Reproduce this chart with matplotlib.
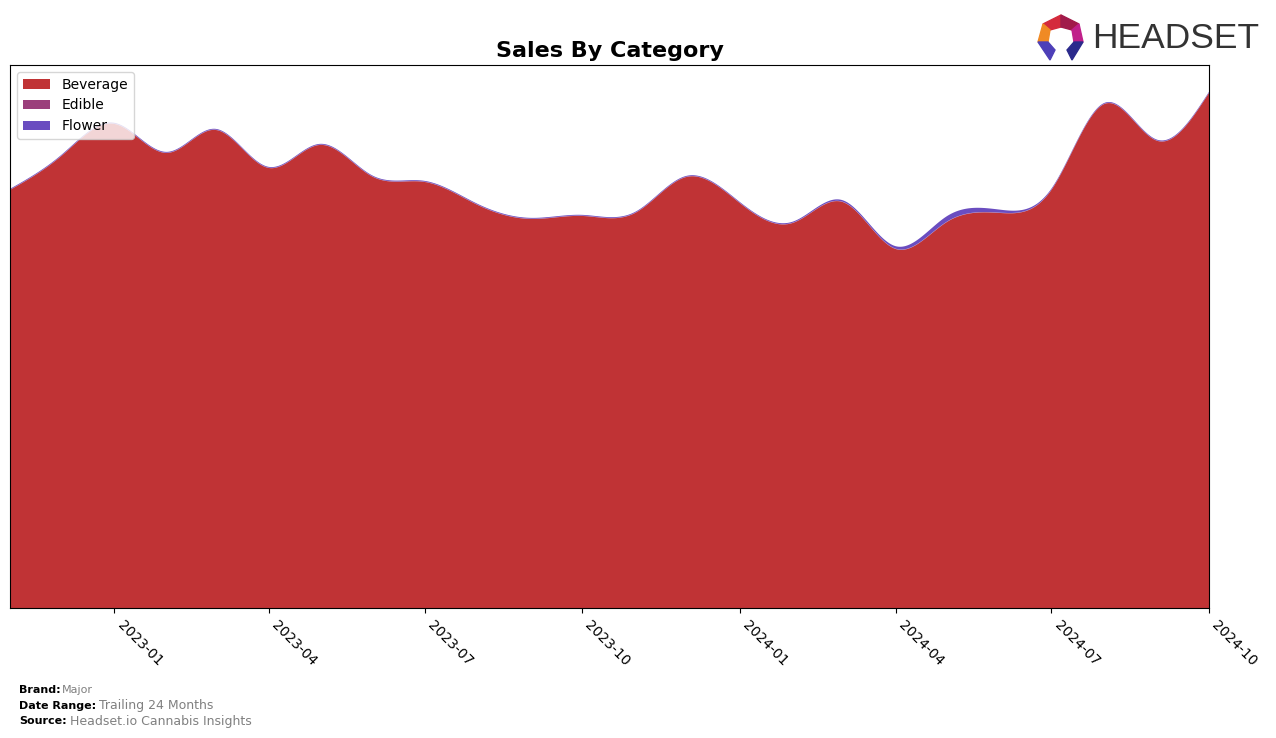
import numpy as np
import pandas as pd
import matplotlib
matplotlib.use("Agg")
import matplotlib.pyplot as plt
import matplotlib.dates as mdates
from matplotlib.patches import Polygon

# monthly data
months = pd.date_range("2022-11-01", "2024-10-01", freq="MS")
beverage = [418, 452, 484, 455, 478, 440, 463, 431, 426, 403, 389, 392,
            395, 431, 405, 385, 406, 359, 386, 395, 418, 504, 467, 515]
edible = [0.3, 0.3, 0.3, 0.3, 0.3, 0.3, 0.3, 0.3, 0.3, 0.3, 0.3, 0.3,
          0.3, 0.3, 0.3, 0.3, 0.3, 0.3, 0.3, 0.3, 0.3, 0.3, 0.3, 0.3]
flower = [0.8, 0.8, 0.8, 0.8, 0.8, 0.8, 0.8, 0.8, 0.8, 0.8, 0.8, 0.8,
          0.8, 0.8, 0.8, 1.0, 1.5, 2.5, 5.5, 3.0, 1.0, 0.8, 0.8, 0.8]
categories = ["Beverage", "Edible", "Flower"]
colors = ["#c03335", "#9b3f7b", "#6a4dc0"]
tick_dates = pd.date_range("2023-01-01", "2024-10-01", freq="3MS")


def spline(x, y, xs):
    # natural cubic spline, only for drawing the smooth curve
    x = np.asarray(x, float)
    y = np.asarray(y, float)
    n = len(x)
    h = np.diff(x)
    A = np.zeros((n, n))
    b = np.zeros(n)
    A[0, 0] = 1
    A[-1, -1] = 1
    for i in range(1, n - 1):
        A[i, i - 1] = h[i - 1]
        A[i, i] = 2 * (h[i - 1] + h[i])
        A[i, i + 1] = h[i]
        b[i] = 3 * ((y[i + 1] - y[i]) / h[i] - (y[i] - y[i - 1]) / h[i - 1])
    c = np.linalg.solve(A, b)
    bb = (y[1:] - y[:-1]) / h - h * (2 * c[:-1] + c[1:]) / 3
    d = (c[1:] - c[:-1]) / (3 * h)
    idx = np.clip(np.searchsorted(x, xs) - 1, 0, n - 2)
    t = xs - x[idx]
    return y[idx] + bb[idx] * t + c[idx] * t ** 2 + d[idx] * t ** 3


xn = mdates.date2num(months)
xs = np.linspace(xn[0], xn[-1], 800)
ys = [np.clip(spline(xn, s, xs), 0, None) for s in (beverage, edible, flower)]

fig = plt.figure(figsize=(12.76, 7.38), dpi=100)
ax = fig.add_axes([10 / 1276, 1 - 608 / 738, 1199 / 1276, 543 / 738])
ax.stackplot(mdates.num2date(xs), *ys, labels=categories, colors=colors)

total = np.array(beverage) + np.array(edible) + np.array(flower)
ax.set_ylim(0, total.max() * 1.052)
ax.set_xlim(months[0], months[-1])
ax.set_yticks([])
ax.set_xticks(tick_dates)
ax.xaxis.set_major_formatter(mdates.DateFormatter("%Y-%m"))
plt.setp(ax.get_xticklabels(), rotation=-45, ha="left")
ax.set_title("Sales By Category", fontsize=16, fontweight="bold")
ax.legend(loc="upper left")

# footer
fig.text(19 / 1276, 1 - 690 / 738, "Brand:", fontsize=8, fontweight="bold", va="center")
fig.text(62 / 1276, 1 - 690 / 738, "Major", fontsize=8, color="gray", va="center")
fig.text(19 / 1276, 1 - 706 / 738, "Date Range:", fontsize=8, fontweight="bold", va="center")
fig.text(99 / 1276, 1 - 706 / 738, "Trailing 24 Months", fontsize=9, color="gray", va="center")
fig.text(19 / 1276, 1 - 721 / 738, "Source:", fontsize=8, fontweight="bold", va="center")
fig.text(70 / 1276, 1 - 721 / 738, "Headset.io Cannabis Insights", fontsize=9, color="gray", va="center")

# logo
fig.text(1092 / 1276, 1 - 38 / 738, "HEADSET", fontsize=25.5, color="#333333",
         va="center", ha="left", family="Liberation Sans")
W, H = 1276, 738
def px(pts):
    return [(x / W, 1 - y / H) for x, y in pts]
logo_parts = [
    ([(1043, 24), (1061, 15), (1061, 27), (1050, 30)], "#d42a3c"),
    ([(1061, 15), (1079, 24), (1072, 30), (1061, 27)], "#a11a4a"),
    ([(1043, 24), (1050, 30), (1048, 42), (1038, 42)], "#f08a24"),
    ([(1079, 24), (1083, 42), (1074, 42), (1072, 30)], "#c0208a"),
    ([(1038, 42), (1048, 42), (1055, 50), (1050, 60)], "#4d3fb8"),
    ([(1083, 42), (1074, 42), (1067, 50), (1072, 60)], "#2b2a8c"),
]
for pts, c in logo_parts:
    fig.patches.append(Polygon(px(pts), closed=True, color=c,
                               transform=fig.transFigure, figure=fig))

fig.savefig("out.png", dpi=100)
